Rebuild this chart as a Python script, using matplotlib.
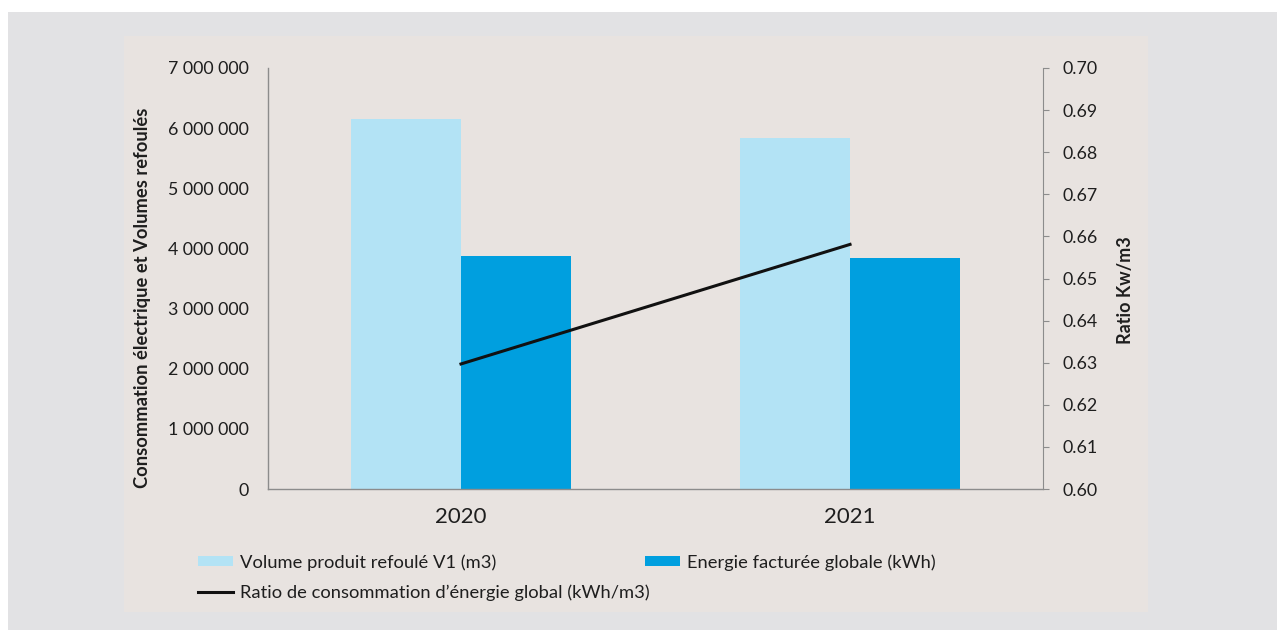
import matplotlib.pyplot as plt
import numpy as np
from matplotlib.patches import Rectangle, Patch
from matplotlib.lines import Line2D
from matplotlib.ticker import FuncFormatter

years = ["2020", "2021"]
volume = [6152000, 5836000]   # Volume produit refoulé V1 (m3)
energie = [3874000, 3841000]  # Energie facturée globale (kWh)
ratio = [0.6297, 0.6581]      # kWh/m3

c_light = "#b3e3f5"
c_dark = "#009fdf"
c_text = "#1e1e1e"
c_axis = "#8c8c8c"

plt.rcParams["font.family"] = ["Lato", "DejaVu Sans"]

fig = plt.figure(figsize=(12.77, 6.3), dpi=100)
fig.patch.set_facecolor("white")
W, H = 1277, 630
# grey frame and beige panel
fig.patches.append(Rectangle((8 / W, 0), 1 - 8 / W, 1 - 12 / H, transform=fig.transFigure,
                             facecolor="#e2e2e4", edgecolor="none", zorder=-2))
fig.patches.append(Rectangle((124 / W, 1 - 612 / H), (1148 - 124) / W, (612 - 36) / H,
                             transform=fig.transFigure, facecolor="#e8e3e0",
                             edgecolor="none", zorder=-1))

ax = fig.add_axes([268 / W, 1 - 489 / H, (1043 - 268) / W, (489 - 68) / H])
ax.patch.set_alpha(0)
x = np.arange(len(years))
w = 0.283
ax.bar(x - w / 2, volume, w, color=c_light, zorder=2)
ax.bar(x + w / 2, energie, w, color=c_dark, zorder=2)
ax.set_xlim(-0.496, 1.496)
ax.set_ylim(0, 7000000)
ax.set_yticks(np.arange(0, 7000001, 1000000))
ax.yaxis.set_major_formatter(FuncFormatter(lambda v, p: f"{int(v):,}".replace(",", " ")))
ax.set_xticks(x)
ax.set_xticklabels(years)
ax.tick_params(axis="y", length=0, pad=14, labelsize=12.8, colors=c_text)
ax.tick_params(axis="x", length=0, pad=13, labelsize=16, colors=c_text)
for s in ["top", "right"]:
    ax.spines[s].set_visible(False)
for s in ["left", "bottom"]:
    ax.spines[s].set_color(c_axis)
    ax.spines[s].set_linewidth(1.0)
ax.set_ylabel("Consommation électrique et Volumes refoulés", fontsize=13.2, fontweight="bold",
              color=c_text, labelpad=12)
ax.yaxis.label.set_y(0.455)

ax2 = ax.twinx()
ax2.plot(x, ratio, color="#111111", lw=2.2, zorder=3)
ax2.set_ylim(0.60, 0.70)
ax2.set_yticks(np.arange(0.60, 0.7001, 0.01))
ax2.yaxis.set_major_formatter(FuncFormatter(lambda v, p: f"{v:.2f}"))
ax2.tick_params(axis="y", length=4, width=0.8, color=c_axis, pad=10, labelsize=12.8, colors=c_text)
for s in ["top", "left", "bottom"]:
    ax2.spines[s].set_visible(False)
ax2.spines["right"].set_color(c_axis)
ax2.set_ylabel("Ratio Kw/m3", fontsize=13, fontweight="bold", color=c_text, labelpad=14)
ax2.yaxis.label.set_y(0.473)

leg_kw = dict(loc="upper left", frameon=False, fontsize=13.2, handlelength=1.9,
              handleheight=0.42, handletextpad=0.4, labelspacing=0.75,
              borderpad=0, borderaxespad=0)
leg1 = fig.legend([Patch(facecolor=c_light, edgecolor="none"),
                   Line2D([], [], color="#111111", lw=2.2)],
                  ["Volume produit refoulé V1 (m3)",
                   "Ratio de consommation d’énergie global (kWh/m3)"],
                  bbox_to_anchor=(198 / W, 1 - 554 / H), **leg_kw)
leg2 = fig.legend([Patch(facecolor=c_dark, edgecolor="none")],
                  ["Energie facturée globale (kWh)"],
                  bbox_to_anchor=(645 / W, 1 - 554 / H), **leg_kw)
for leg in (leg1, leg2):
    for t in leg.get_texts():
        t.set_color(c_text)

fig.savefig("out.png", dpi=100)
